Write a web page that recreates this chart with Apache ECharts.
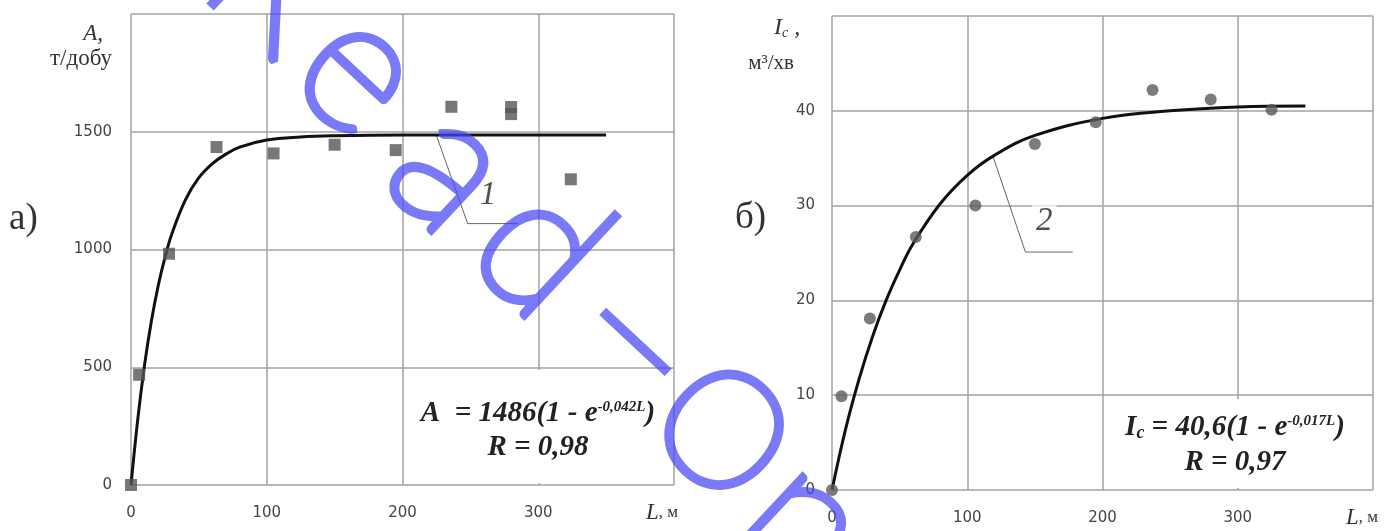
<!DOCTYPE html>
<html><head><meta charset="utf-8">
<script src="https://cdn.jsdelivr.net/npm/echarts@6/dist/echarts.min.js"></script>
<style>html,body{margin:0;padding:0;background:#fff}#c{width:1394px;height:531px}</style>
</head><body><div id="c"></div>
<script>
// ---- data ----
const xTicks = [0, 100, 200, 300, 400];
const xTickLabels = ['0', '100', '200', '300', ''];
const yTicksA = [0, 500, 1000, 1500, 2000];
const yTickLabelsA = ['0', '500', '1000', '1500', ''];
const yTicksI = [0, 10, 20, 30, 40, 50];
const yTickLabelsI = ['0', '10', '20', '30', '40', ''];

// chart а): measured points (L, A)
const ptsAL = [0, 6, 28, 63, 105, 150, 195, 236, 280, 280, 324];
const ptsA  = [0, 468, 982, 1435, 1408, 1445, 1422, 1606, 1605, 1575, 1298];
// chart а): fitted curve
const curveAL = [0, 5, 10, 15, 20, 25, 30, 40, 50, 60, 70, 80, 100, 125, 150, 200, 250, 300, 350];
const curveA  = [0, 280, 510, 695, 845, 965, 1065, 1210, 1305, 1365, 1405, 1435, 1465, 1478, 1483, 1486, 1486, 1486, 1486];
// leader "1"
const leaderAL = [225, 248, 285];
const leaderA  = [1484, 1110, 1110];
const labelAPos = [263, 1228];

// chart б): measured points (L, Ic)
const ptsIL = [0, 7, 28, 62, 106, 150, 195, 237, 280, 325];
const ptsI  = [0, 9.9, 18.1, 26.7, 30.0, 36.5, 38.8, 42.2, 41.2, 40.1];
// chart б): fitted curve
const curveIL = [0, 10, 20, 30, 40, 50, 60, 80, 100, 120, 150, 200, 250, 300, 350];
const curveI  = [0, 6.4, 11.7, 16.2, 20.0, 23.2, 26.0, 30.2, 33.2, 35.3, 37.4, 39.2, 40.0, 40.4, 40.5];
// leader "2"
const leaderIL = [119, 143, 178];
const leaderI  = [35.2, 25.1, 25.1];
const labelIPos = [157, 28.3];

const zip = (a, b) => a.map((v, i) => [v, b[i]]);
const serif = "'Liberation Serif','DejaVu Serif',serif";
const sans = "'DejaVu Sans',sans-serif";

const chart = echarts.init(document.getElementById('c'), null, {renderer: 'canvas'});

function xAxis(gi, margin) {
  return {gridIndex: gi, type: 'value', min: 0, max: 400, interval: 100,
    axisLine: {show: false}, axisTick: {show: false},
    splitLine: {show: true, lineStyle: {color: '#a3a3a3', width: 1.5}},
    axisLabel: {margin: margin, color: '#444', fontFamily: sans, fontSize: 15,
      formatter: v => { const i = xTicks.indexOf(v); return i < 0 ? '' : xTickLabels[i]; }}};
}
function yAxis(gi, max, interval, ticks, labels, margin) {
  return {gridIndex: gi, type: 'value', min: 0, max: max, interval: interval,
    axisLine: {show: false}, axisTick: {show: false},
    splitLine: {show: true, lineStyle: {color: '#a3a3a3', width: 1.5}},
    axisLabel: {margin: margin, color: '#444', fontFamily: sans, fontSize: 15,
      formatter: v => { const i = ticks.indexOf(v); return i < 0 ? '' : labels[i]; }}};
}

// watermark glyphs (decoration of the source image): char, x, y, size
const wm = [['R', 278, -18, 188], ['e', 361, 69, 188], ['a', 452, 167, 188], ['d', 541, 248, 188],
            ['–', 641, 336, 210], ['O', 721, 433, 160], ['n', 806, 523, 188]];

const eqN = {fontFamily: serif, fontStyle: 'italic', fontWeight: 'bold', fontSize: 29, fill: '#222'};
const eqS = {fontFamily: serif, fontStyle: 'italic', fontWeight: 'bold', fontSize: 15, fill: '#222', verticalAlign: 'top'};
const eqC = {fontFamily: serif, fontStyle: 'italic', fontWeight: 'bold', fontSize: 18, fill: '#222', verticalAlign: 'bottom'};

const graphics = [
  {type: 'rect', z: 1, shape: {x: 405, y: 370, width: 267, height: 113}, style: {fill: '#fff'}},
  {type: 'rect', z: 1, shape: {x: 1105, y: 399, width: 266, height: 89}, style: {fill: '#fff'}},
  // equations
  {type: 'text', z: 5, x: 538, y: 414, style: {text: '{n|A  = 1486(1 - e}{s|-0,042L}{n|)}', align: 'center', verticalAlign: 'middle', rich: {n: eqN, s: eqS}}},
  {type: 'text', z: 5, x: 538, y: 448, style: Object.assign({text: 'R = 0,98', align: 'center', verticalAlign: 'middle'}, eqN)},
  {type: 'text', z: 5, x: 1235, y: 428, style: {text: '{n|I}{c|c}{n| = 40,6(1 - e}{s|-0,017L}{n|)}', align: 'center', verticalAlign: 'middle', rich: {n: eqN, c: eqC, s: eqS}}},
  {type: 'text', z: 5, x: 1235, y: 463, style: Object.assign({text: 'R = 0,97', align: 'center', verticalAlign: 'middle'}, eqN)},
  // axis names
  {type: 'text', z: 5, x: 103, y: 34, style: {text: 'A,', align: 'right', verticalAlign: 'middle', fontFamily: serif, fontStyle: 'italic', fontSize: 23, fill: '#333'}},
  {type: 'text', z: 5, x: 112, y: 59, style: {text: 'т/добу', align: 'right', verticalAlign: 'middle', fontFamily: serif, fontSize: 23, fill: '#333'}},
  {type: 'text', z: 5, x: 774, y: 28, style: {text: '{i|I}{c|c}{i| ,}', align: 'left', verticalAlign: 'middle',
    rich: {i: {fontFamily: serif, fontStyle: 'italic', fontSize: 24, fill: '#333'}, c: {fontFamily: serif, fontStyle: 'italic', fontSize: 14, fill: '#333', verticalAlign: 'bottom'}}}},
  {type: 'text', z: 5, x: 794, y: 63, style: {text: 'м³/хв', align: 'right', verticalAlign: 'middle', fontFamily: serif, fontSize: 21, fill: '#333'}},
  {type: 'text', z: 5, x: 662, y: 513, style: {text: '{L|L}{m|, м}', align: 'center', verticalAlign: 'middle',
    rich: {L: {fontFamily: serif, fontStyle: 'italic', fontSize: 23, fill: '#333'}, m: {fontFamily: serif, fontSize: 17, fill: '#333'}}}},
  {type: 'text', z: 5, x: 1362, y: 518, style: {text: '{L|L}{m|, м}', align: 'center', verticalAlign: 'middle',
    rich: {L: {fontFamily: serif, fontStyle: 'italic', fontSize: 23, fill: '#333'}, m: {fontFamily: serif, fontSize: 17, fill: '#333'}}}},
  // panel labels
  {type: 'text', z: 5, x: 9, y: 219, style: {text: 'а)', align: 'left', verticalAlign: 'middle', fontFamily: serif, fontSize: 37, fill: '#333'}},
  {type: 'text', z: 5, x: 735, y: 218, style: {text: 'б)', align: 'left', verticalAlign: 'middle', fontFamily: serif, fontSize: 37, fill: '#333'}}
];
wm.forEach(([ch, x, y, s]) => graphics.push({type: 'text', z: 100, x: x, y: y, rotation: -0.75, silent: true,
  style: {text: ch, align: 'center', verticalAlign: 'middle', fontFamily: "Lato, Roboto, 'DejaVu Sans'", fontWeight: 100, fontSize: s,
    fill: 'rgba(0,0,0,0)', stroke: 'rgba(70,70,245,0.72)', lineWidth: 8, lineCap: 'round', lineJoin: 'round'}}));

chart.setOption({
  animation: false,
  backgroundColor: '#fff',
  grid: [{left: 131, top: 14, width: 543, height: 471}, {left: 832, top: 16, width: 541, height: 474}],
  xAxis: [xAxis(0, 21), xAxis(1, 21)],
  yAxis: [yAxis(0, 2000, 500, yTicksA, yTickLabelsA, 19), yAxis(1, 50, 10, yTicksI, yTickLabelsI, 17)],
  graphic: graphics,
  series: [
    {type: 'line', xAxisIndex: 0, yAxisIndex: 0, data: zip(curveAL, curveA), showSymbol: false, smooth: 0.4,
      lineStyle: {color: '#111', width: 3}, z: 3, silent: true},
    {type: 'scatter', xAxisIndex: 0, yAxisIndex: 0, data: zip(ptsAL, ptsA), symbol: 'rect', symbolSize: 12,
      itemStyle: {color: '#555'}, z: 4},
    {type: 'line', xAxisIndex: 0, yAxisIndex: 0, data: zip(leaderAL, leaderA), showSymbol: false,
      lineStyle: {color: '#666', width: 1}, z: 2, silent: true},
    {type: 'scatter', xAxisIndex: 0, yAxisIndex: 0, data: [labelAPos], symbolSize: 0, z: 5, silent: true,
      label: {show: true, position: 'inside', formatter: '1', fontFamily: serif, fontStyle: 'italic', fontSize: 33, color: '#222'}},
    {type: 'line', xAxisIndex: 1, yAxisIndex: 1, data: zip(curveIL, curveI), showSymbol: false, smooth: 0.4,
      lineStyle: {color: '#111', width: 3}, z: 3, silent: true},
    {type: 'scatter', xAxisIndex: 1, yAxisIndex: 1, data: zip(ptsIL, ptsI), symbol: 'circle', symbolSize: 12,
      itemStyle: {color: '#5a5a5a'}, z: 4},
    {type: 'line', xAxisIndex: 1, yAxisIndex: 1, data: zip(leaderIL, leaderI), showSymbol: false,
      lineStyle: {color: '#666', width: 1}, z: 2, silent: true},
    {type: 'scatter', xAxisIndex: 1, yAxisIndex: 1, data: [labelIPos], symbolSize: 0, z: 5, silent: true,
      label: {show: true, position: 'inside', formatter: '2', fontFamily: serif, fontStyle: 'italic', fontSize: 33, color: '#222',
        backgroundColor: '#fff', padding: [0, 4]}}
  ]
});
</script>
</body></html>
